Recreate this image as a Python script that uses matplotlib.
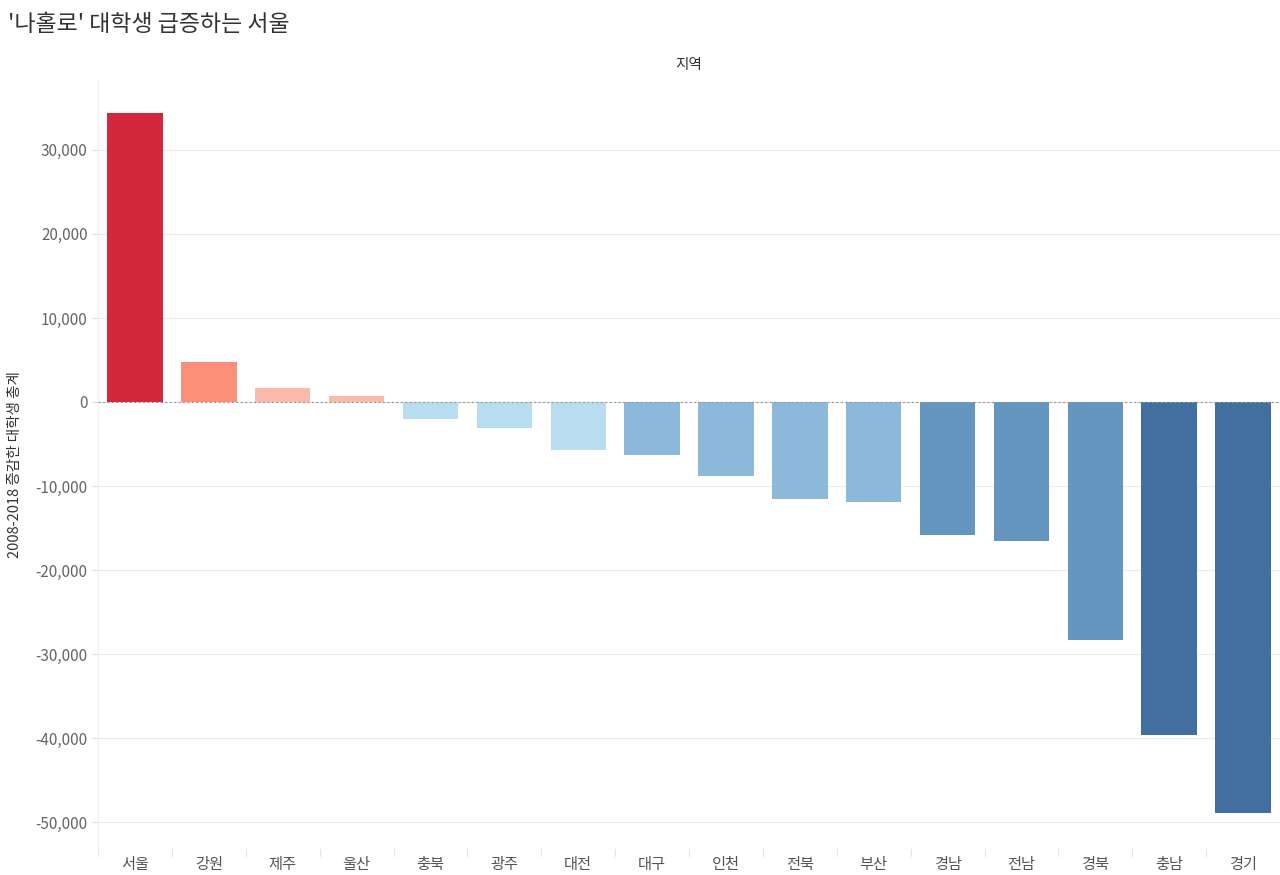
import matplotlib.pyplot as plt
import matplotlib.ticker as mticker

plt.rcParams['font.family'] = ['Noto Sans CJK KR', 'DejaVu Sans']

# 지역별 2008-2018 대학생 증감
regions = ['서울', '강원', '제주', '울산', '충북', '광주', '대전', '대구',
           '인천', '전북', '부산', '경남', '전남', '경북', '충남', '경기']
values = [34400, 4760, 1670, 710, -2020, -3100, -5710, -6310,
          -8810, -11550, -11900, -15830, -16550, -28330, -39640, -48930]
colors = ['#d3283c', '#fb8f78', '#fcbbaa', '#fcbbaa', '#b8dcf0', '#b8dcf0', '#b8dcf0', '#8cb8da',
          '#8cb8da', '#8cb8da', '#8cb8da', '#6496c0', '#6496c0', '#6496c0', '#426f9f', '#426f9f']
yticks = [30000, 20000, 10000, 0, -10000, -20000, -30000, -40000, -50000]

fig = plt.figure(figsize=(12.8, 8.75), dpi=100)
ax = fig.add_axes([0.0766, 0.0297, 0.9234, 0.8789])

x = list(range(len(regions)))
ax.bar(x, values, width=0.75, color=colors, zorder=3)

ax.set_xlim(-0.5, len(regions) - 0.5)
ax.set_ylim(-53210, 38330)
ax.set_yticks(yticks)
ax.yaxis.set_major_formatter(mticker.FuncFormatter(lambda v, p: f'{int(v):,}'))
ax.grid(axis='y', color='#ececec', linewidth=0.8, zorder=0)
ax.axhline(0, color='#999999', linestyle=(0, (2, 2)), linewidth=0.8, zorder=4)

ax.set_xticks(x)
ax.set_xticklabels(regions)
ax.tick_params(axis='x', length=0, pad=5, labelsize=11, labelcolor='#555555')
ax.tick_params(axis='y', length=4, color='#dddddd', labelsize=11, labelcolor='#666666')

# 카테고리 구분선
for i in range(len(regions) + 1):
    ax.plot([i - 0.5, i - 0.5], [0, -0.009], transform=ax.get_xaxis_transform(),
            color='#e4e4e4', linewidth=0.8, clip_on=False)

for s in ['top', 'right', 'bottom']:
    ax.spines[s].set_visible(False)
ax.spines['left'].set_color('#eeeeee')

ax.set_ylabel('2008-2018 증감한 대학생 총계', fontsize=10.5, color='#333333', labelpad=10)
ax.set_title('지역', fontsize=10.5, color='#333333', pad=8)

fig.text(0.006, 0.972, "'나홀로' 대학생 급증하는 서울", fontsize=16.5, color='#333333', va='center')

fig.savefig('out.png', dpi=100)
